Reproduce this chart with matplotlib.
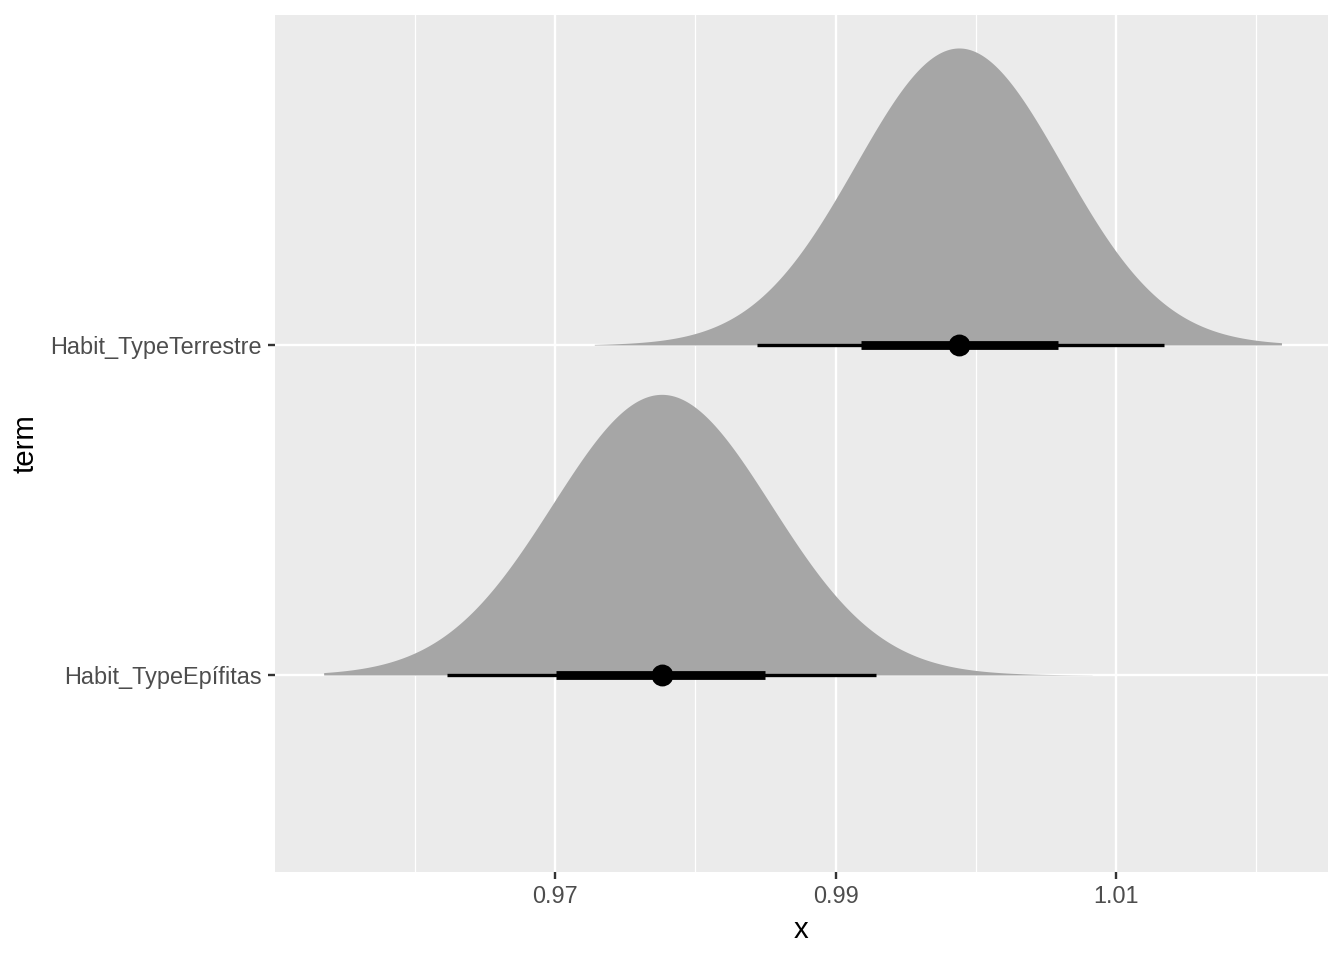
import numpy as np
import matplotlib.pyplot as plt

# posterior summaries
terms = ["Habit_TypeEpífitas", "Habit_TypeTerrestre"]
means = [0.9776, 0.9988]
sds = [0.0078, 0.00737]
dens_lo = [0.9535, 0.9728]
dens_hi = [1.0083, 1.0218]
q66_lo = [0.9701, 0.9918]
q66_hi = [0.9850, 1.0059]
q95_lo = [0.9623, 0.9844]
q95_hi = [0.9929, 1.0134]

x_ticks = [0.97, 0.99, 1.01]
x_minor = [0.96, 0.98, 1.00, 1.02]

plt.rcParams['font.family'] = ['Liberation Sans', 'DejaVu Sans']

fig = plt.figure(figsize=(7, 5), dpi=192)
ax = fig.add_axes([0.2046, 0.0917, 0.7835, 0.8927])
ax.set_facecolor('#EBEBEB')
for s in ax.spines.values():
    s.set_visible(False)

# gridlines
for xm in x_minor:
    ax.axvline(xm, color='white', lw=0.45, zorder=0)
for xt in x_ticks:
    ax.axvline(xt, color='white', lw=0.9, zorder=0)
for i in range(len(terms)):
    ax.axhline(i + 1, color='white', lw=0.9, zorder=0)

# densities, scaled jointly so tallest peak = 0.9
curves = []
for i in range(len(terms)):
    xs = np.linspace(dens_lo[i], dens_hi[i], 400)
    d = np.exp(-0.5 * ((xs - means[i]) / sds[i]) ** 2) / sds[i]
    curves.append((xs, d))
peak = max(c[1].max() for c in curves)
for i, (xs, d) in enumerate(curves):
    y0 = i + 1
    ax.fill_between(xs, y0, y0 + 0.9 * d / peak, color='#A6A6A6', lw=0, zorder=1)
    ax.plot([q95_lo[i], q95_hi[i]], [y0, y0], color='black', lw=1.25,
            solid_capstyle='butt', zorder=2)
    ax.plot([q66_lo[i], q66_hi[i]], [y0, y0], color='black', lw=3.3,
            solid_capstyle='butt', zorder=3)
    ax.plot(means[i], y0, 'o', color='black', ms=7.2, zorder=4)

ax.set_xlim(0.95003, 1.02512)
ax.set_ylim(0.403, 3.0)
ax.set_xticks(x_ticks)
ax.set_xticklabels([f"{v:.2f}" for v in x_ticks])
ax.set_yticks([1, 2])
ax.set_yticklabels(terms)
ax.tick_params(axis='both', colors='#333333', length=2.75, width=0.9,
               labelsize=8.8, labelcolor='#4D4D4D', pad=2.2)
ax.set_xlabel('x', fontsize=11, labelpad=3)
ax.set_ylabel('term', fontsize=11, labelpad=4)

fig.savefig('out.png', dpi=192)
